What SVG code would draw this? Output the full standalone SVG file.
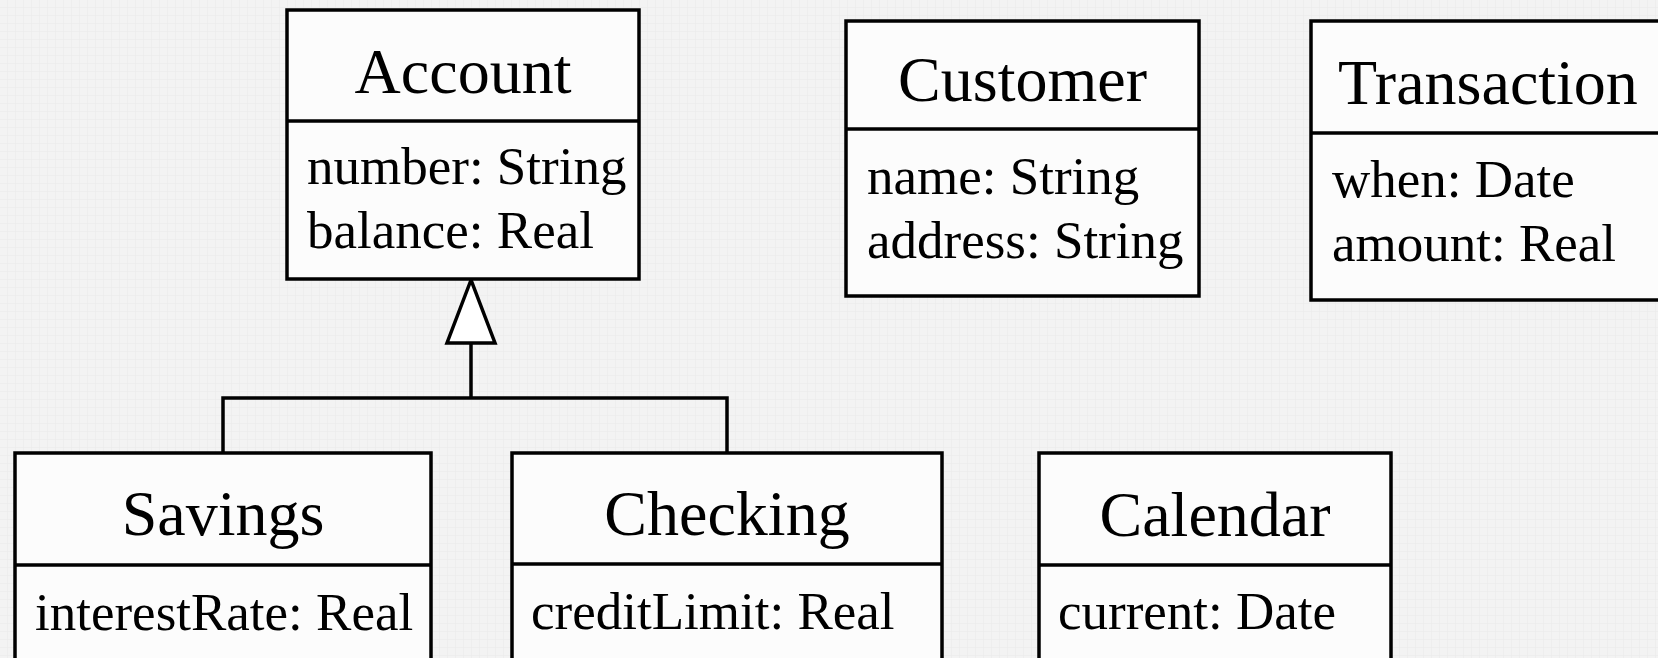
<svg xmlns="http://www.w3.org/2000/svg" width="1658" height="658" viewBox="0 0 1658 658">
  <defs>
    <pattern id="grid" width="8" height="8" patternUnits="userSpaceOnUse">
      <rect width="8" height="8" fill="#f3f3f3"/>
      <path d="M8 0V8M0 8H8" fill="none" stroke="#eaeaea" stroke-width="1"/>
    </pattern>
    <style>
      .box { fill: #fcfcfc; stroke: #000; stroke-width: 3.5; }
      .sep { stroke: #000; stroke-width: 3.5; }
      .title { font-family: "Liberation Serif", "Times New Roman", serif; font-size: 64px; fill: #000; text-anchor: middle; }
      .attr { font-family: "Liberation Serif", "Times New Roman", serif; font-size: 53px; fill: #000; }
      .edge { fill: none; stroke: #000; stroke-width: 3.5; }
      .head { fill: #fff; stroke: #000; stroke-width: 3.5; stroke-linejoin: miter; }
    </style>
  </defs>

  <rect width="1658" height="658" fill="url(#grid)"/>

  <!-- generalization: Savings / Checking extend Account -->
  <g id="connectors">
    <polyline class="edge" points="223,453 223,398 727,398 727,453"/>
    <line class="edge" x1="471" y1="398" x2="471" y2="343"/>
    <polygon class="head" points="471,280 447,343 495,343"/>
  </g>

  <g id="account">
    <rect class="box" x="287" y="10" width="352" height="269"/>
    <line class="sep" x1="287" y1="121" x2="639" y2="121"/>
    <text class="title" x="463" y="93">Account</text>
    <text class="attr" x="307" y="184">number: String</text>
    <text class="attr" x="307" y="248">balance: Real</text>
  </g>

  <g id="customer">
    <rect class="box" x="846" y="21" width="353" height="275"/>
    <line class="sep" x1="846" y1="129" x2="1199" y2="129"/>
    <text class="title" x="1022.5" y="101">Customer</text>
    <text class="attr" x="867" y="194">name: String</text>
    <text class="attr" x="867" y="258">address: String</text>
  </g>

  <g id="transaction">
    <rect class="box" x="1311" y="21" width="357" height="279"/>
    <line class="sep" x1="1311" y1="133" x2="1668" y2="133"/>
    <text class="title" x="1338" y="104" style="text-anchor:start">Transaction</text>
    <text class="attr" x="1332" y="197">when: Date</text>
    <text class="attr" x="1332" y="261">amount: Real</text>
  </g>

  <g id="savings">
    <rect class="box" x="15" y="453" width="416" height="230"/>
    <line class="sep" x1="15" y1="565" x2="431" y2="565"/>
    <text class="title" x="223" y="535">Savings</text>
    <text class="attr" x="35" y="630">interestRate: Real</text>
  </g>

  <g id="checking">
    <rect class="box" x="512" y="453" width="430" height="230"/>
    <line class="sep" x1="512" y1="564" x2="942" y2="564"/>
    <text class="title" x="727" y="535">Checking</text>
    <text class="attr" x="531" y="629">creditLimit: Real</text>
  </g>

  <g id="calendar">
    <rect class="box" x="1039" y="453" width="352" height="230"/>
    <line class="sep" x1="1039" y1="565" x2="1391" y2="565"/>
    <text class="title" x="1215" y="536">Calendar</text>
    <text class="attr" x="1058" y="629">current: Date</text>
  </g>
</svg>
